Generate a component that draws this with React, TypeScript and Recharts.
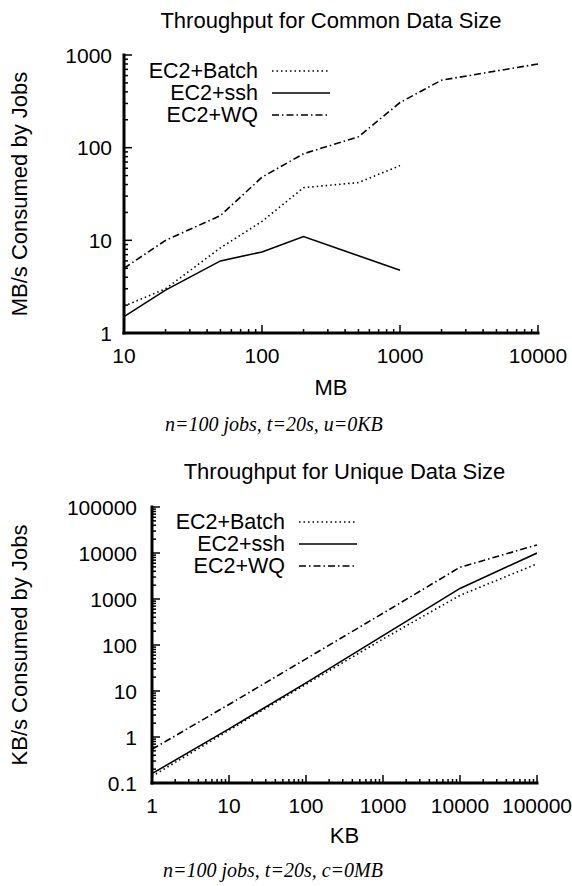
import React from "react";
import { LineChart, Line, XAxis, YAxis, Legend } from "recharts";

// common data size chart (MB -> MB/s)
const commonSizes = [10, 20, 50, 100, 200, 500, 1000, 2000, 10000];
const commonWQ = [5, 10, 18.5, 48, 86, 131, 307, 535, 800];
const commonBatchSizes = [10, 20, 50, 100, 200, 500, 1000];
const commonBatch = [1.95, 3.0, 8.3, 16, 37, 42, 64];
const commonSshSizes = [10, 20, 50, 100, 200, 1000];
const commonSsh = [1.5, 2.9, 6.0, 7.5, 11, 4.75];

// unique data size chart (KB -> KB/s)
const uniqueSizes = [1, 10, 100, 1000, 10000, 100000];
const uniqueBatch = [0.14, 1.4, 14, 135, 1200, 5800];
const uniqueSsh = [0.16, 1.5, 15, 160, 1700, 10000];
const uniqueWQ = [0.54, 5.1, 50, 490, 4900, 15000];

const commonXDecades = [10, 100, 1000, 10000];
const commonYDecades = [1, 10, 100, 1000];
const uniqueXDecades = [1, 10, 100, 1000, 10000, 100000];
const uniqueYDecades = [0.1, 1, 10, 100, 1000, 10000, 100000];

const seriesNames = ["EC2+Batch", "EC2+ssh", "EC2+WQ"];
const dashes: Record<string, string | undefined> = {
  "EC2+Batch": "1.5 3",
  "EC2+ssh": undefined,
  "EC2+WQ": "7 3 1.5 3",
};

const SANS = '"Liberation Sans", Arial, Helvetica, sans-serif';
const SERIF = '"Liberation Serif", "Times New Roman", serif';
const W = 572;

const rows = (xs: number[], ys: number[]) => xs.map((x, i) => ({ x, y: ys[i] }));

function logTicks(decades: number[]) {
  const out: number[] = [];
  decades.forEach((d, i) => {
    out.push(d);
    if (i < decades.length - 1) for (let k = 2; k < 10; k++) out.push(+(d * k).toPrecision(3));
  });
  return out;
}
const isMajor = (v: number) => Math.abs(Math.log10(v) - Math.round(Math.log10(v))) < 1e-6;

type Box = { left: number; right: number; top: number; bottom: number; ygap: number };

const tickFor = (box: Box, side: "bottom" | "top" | "left" | "right") => (props: any) => {
  const v = props.payload.value;
  const major = isMajor(v);
  const len = major ? 8 : 4;
  const tp = { fontSize: 21, fontFamily: SANS, fill: "#000" };
  if (side === "bottom") {
    const x = props.x;
    return (
      <g>
        <line x1={x} x2={x} y1={box.bottom} y2={box.bottom - len} stroke="#000" strokeWidth={1.5} />
        {major && (
          <text x={x} y={box.bottom + 22} textAnchor="middle" dominantBaseline="central" {...tp}>
            {String(v)}
          </text>
        )}
      </g>
    );
  }
  if (side === "top") {
    const x = props.x;
    return <line x1={x} x2={x} y1={box.top} y2={box.top + len} stroke="#000" strokeWidth={1.5} />;
  }
  const y = props.y;
  if (side === "left") {
    return (
      <g>
        <line x1={box.left} x2={box.left + len} y1={y} y2={y} stroke="#000" strokeWidth={1.5} />
        {major && (
          <text x={box.left - box.ygap} y={y} textAnchor="end" dominantBaseline="central" {...tp}>
            {String(v)}
          </text>
        )}
      </g>
    );
  }
  return <line x1={box.right} x2={box.right - len} y1={y} y2={y} stroke="#000" strokeWidth={1.5} />;
};

// legend keeps the plotting order (Recharts would sort it by name)
const legendContent = (textRight: number, rowYs: number[]) => () => (
  <svg width={260} height={80} style={{ display: "block" }}>
    {seriesNames.map((name, i) => (
      <g key={name}>
        <text
          x={textRight}
          y={rowYs[i]}
          textAnchor="end"
          dominantBaseline="central"
          fontSize={21.5}
          fontFamily={SANS}
          fill="#000"
        >
          {name}
        </text>
        <line
          x1={textRight + 14}
          x2={textRight + 72}
          y1={rowYs[i]}
          y2={rowYs[i]}
          stroke="#000"
          strokeWidth={1.6}
          strokeDasharray={dashes[name]}
        />
      </g>
    ))}
  </svg>
);

const frame = { stroke: "#000", strokeWidth: 3, strokeLinecap: "square" as const };

function Txt({ x, y, children, style, anchor = "middle" }: any) {
  const tx = anchor === "middle" ? "-50%" : "0";
  return (
    <div
      style={{
        position: "absolute",
        left: x,
        top: y,
        transform: `translate(${tx}, -50%)`,
        whiteSpace: "nowrap",
        lineHeight: 1,
        fontFamily: SANS,
        fontSize: 22,
        color: "#000",
        ...style,
      }}
    >
      {children}
    </div>
  );
}

function LogChart({
  height,
  box,
  xDecades,
  yDecades,
  series,
  legendRight,
  legendRows,
}: {
  height: number;
  box: Box;
  xDecades: number[];
  yDecades: number[];
  series: { name: string; data: { x: number; y: number }[] }[];
  legendRight: number;
  legendRows: number[];
}) {
  const xTicks = logTicks(xDecades);
  const yTicks = logTicks(yDecades);
  const xDom = [xDecades[0], xDecades[xDecades.length - 1]];
  const yDom = [yDecades[0], yDecades[yDecades.length - 1]];
  const xAxisH = 40;
  return (
    <LineChart
      width={W}
      height={height}
      margin={{ top: box.top, right: W - box.right, bottom: height - box.bottom - xAxisH, left: 0 }}
    >
      <XAxis
        dataKey="x"
        type="number"
        scale="log"
        domain={xDom}
        allowDataOverflow
        ticks={xTicks}
        interval={0}
        height={xAxisH}
        tickLine={false}
        tickSize={0}
        axisLine={frame}
        tick={tickFor(box, "bottom")}
      />
      <XAxis
        xAxisId="top"
        orientation="top"
        dataKey="x"
        type="number"
        scale="log"
        domain={xDom}
        allowDataOverflow
        ticks={xTicks}
        interval={0}
        height={0}
        tickLine={false}
        tickSize={0}
        axisLine={frame}
        tick={tickFor(box, "top")}
      />
      <YAxis
        type="number"
        scale="log"
        domain={yDom}
        allowDataOverflow
        ticks={yTicks}
        interval={0}
        width={box.left}
        tickLine={false}
        tickSize={0}
        axisLine={frame}
        tick={tickFor(box, "left")}
      />
      <YAxis
        yAxisId="right"
        orientation="right"
        type="number"
        scale="log"
        domain={yDom}
        allowDataOverflow
        ticks={yTicks}
        interval={0}
        width={0}
        tickLine={false}
        tickSize={0}
        axisLine={frame}
        tick={tickFor(box, "right")}
      />
      <Legend
        layout="vertical"
        align="center"
        verticalAlign="middle"
        wrapperStyle={{ left: box.left, top: box.top, width: 260, height: 80 }}
        content={legendContent(legendRight, legendRows)}
      />
      {series.map((s) => (
        <Line
          key={s.name}
          name={s.name}
          data={s.data}
          dataKey="y"
          type="linear"
          stroke="#000"
          strokeWidth={1.6}
          strokeDasharray={dashes[s.name]}
          dot={false}
          activeDot={false}
          isAnimationActive={false}
        />
      ))}
    </LineChart>
  );
}

export default function App() {
  const commonSeries = [
    { name: seriesNames[0], data: rows(commonBatchSizes, commonBatch) },
    { name: seriesNames[1], data: rows(commonSshSizes, commonSsh) },
    { name: seriesNames[2], data: rows(commonSizes, commonWQ) },
  ];
  const uniqueSeries = [
    { name: seriesNames[0], data: rows(uniqueSizes, uniqueBatch) },
    { name: seriesNames[1], data: rows(uniqueSizes, uniqueSsh) },
    { name: seriesNames[2], data: rows(uniqueSizes, uniqueWQ) },
  ];
  return (
    <div
      style={{
        position: "absolute",
        left: 0,
        top: 0,
        width: W,
        height: 886,
        background: "#fff",
        overflow: "hidden",
      }}
    >
      <div style={{ position: "absolute", left: 0, top: 0 }}>
        <LogChart
          height={440}
          box={{ left: 124, right: 538, top: 55, bottom: 333, ygap: 12 }}
          xDecades={commonXDecades}
          yDecades={commonYDecades}
          series={commonSeries}
          legendRight={134}
          legendRows={[16, 38, 60]}
        />
      </div>
      <div style={{ position: "absolute", left: 0, top: 440 }}>
        <LogChart
          height={446}
          box={{ left: 152, right: 537, top: 67, bottom: 343, ygap: 15 }}
          xDecades={uniqueXDecades}
          yDecades={uniqueYDecades}
          series={uniqueSeries}
          legendRight={133}
          legendRows={[15, 37, 59]}
        />
      </div>

      <Txt x={331} y={20.5}>Throughput for Common Data Size</Txt>
      <Txt x={20} y={194} style={{ transform: "translate(-50%, -50%) rotate(-90deg)" }}>
        MB/s Consumed by Jobs
      </Txt>
      <Txt x={331} y={388}>MB</Txt>
      <Txt x={165} y={424} anchor="start" style={{ fontFamily: SERIF, fontStyle: "italic", fontSize: 20 }}>
        n=100 jobs, t=20s, u=0KB
      </Txt>

      <Txt x={344.5} y={471.5}>Throughput for Unique Data Size</Txt>
      <Txt x={20} y={645} style={{ transform: "translate(-50%, -50%) rotate(-90deg)" }}>
        KB/s Consumed by Jobs
      </Txt>
      <Txt x={344.5} y={836}>KB</Txt>
      <Txt x={163} y={870} anchor="start" style={{ fontFamily: SERIF, fontStyle: "italic", fontSize: 20 }}>
        n=100 jobs, t=20s, c=0MB
      </Txt>
    </div>
  );
}
